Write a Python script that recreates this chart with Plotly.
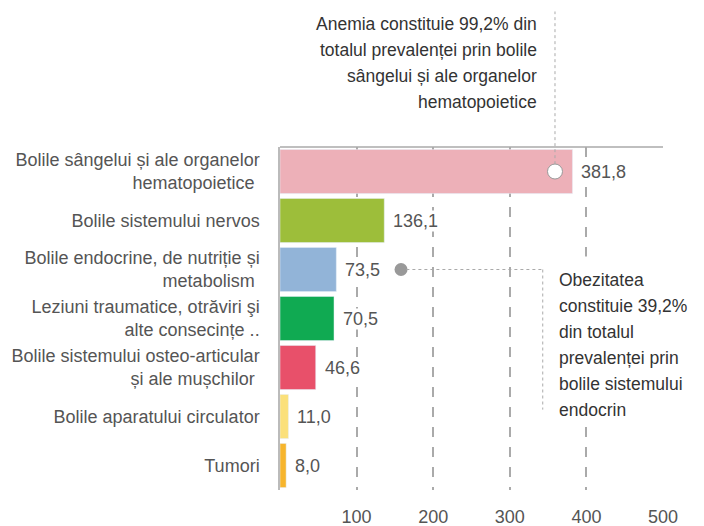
import plotly.graph_objects as go

# data
categories = [
    "Bolile sângelui și ale organelor<br>hematopoietice ",
    "Bolile sistemului nervos",
    "Bolile endocrine, de nutriție și<br>metabolism ",
    "Leziuni traumatice, otrăviri şi<br>alte consecințe ..",
    "Bolile sistemului osteo-articular<br>și ale mușchilor ",
    "Bolile aparatului circulator",
    "Tumori",
]
values = [381.8, 136.1, 73.5, 70.5, 46.6, 11.0, 8.0]
colors = ["#EDB0B8", "#9DBE3A", "#92B4D8", "#10AA52", "#E8506A", "#FBE07A", "#F7B52C"]
tick_vals = [100, 200, 300, 400, 500]

note_anemia = ["Anemia constituie 99,2% din", "totalul prevalenței prin bolile",
               "sângelui și ale organelor", "hematopoietice"]
note_obez = ["Obezitatea", "constituie 39,2%", "din totalul", "prevalenței prin",
             "bolile sistemului", "endocrin"]

idx = list(range(len(categories)))
note_font = dict(family="Liberation Sans, Arial", size=17.5, color="#333")

fig = go.Figure()
fig.add_trace(go.Bar(
    y=idx, x=values, orientation="h", marker_color=colors, width=0.9,
    hoverinfo="skip", showlegend=False,
))

# value labels
for i, v in zip(idx, values):
    fig.add_annotation(x=v, y=i, text=f"{v:.1f}".replace(".", ","), showarrow=False,
                       xanchor="left", xshift=8, bgcolor="white", borderpad=0,
                       font=dict(family="Liberation Sans, Arial", size=18, color="#555"))

# callout markers
fig.add_trace(go.Scatter(x=[359], y=[0], mode="markers", showlegend=False, hoverinfo="skip",
                         marker=dict(size=15, color="white", line=dict(color="#999", width=1))))
fig.add_trace(go.Scatter(x=[158], y=[2], mode="markers", showlegend=False, hoverinfo="skip",
                         marker=dict(size=13, color="#999", line=dict(width=0))))

# white box behind the obesity note (hides gridlines)
fig.add_shape(type="rect", xref="paper", yref="paper", x0=0.694, x1=1.05, y0=0.197, y1=0.681,
              fillcolor="white", line=dict(width=0), layer="above")

dot = dict(color="#aaa", width=1, dash="dot")
fig.add_shape(type="line", xref="x", yref="paper", x0=359, x1=359, y0=0.95, y1=1.395, line=dot)
fig.add_shape(type="line", xref="x", yref="y", x0=165, x1=343, y0=2, y1=2, line=dot)
fig.add_shape(type="line", xref="x", yref="y", x0=343, x1=343, y0=2, y1=4.86, line=dot)
# top frame line
fig.add_shape(type="line", xref="paper", yref="paper", x0=0, x1=1, y0=1, y1=1,
              line=dict(color="#aaa", width=1.5))

# callout texts, one line each
for k, line in enumerate(note_anemia):
    fig.add_annotation(x=338, xref="x", y=1, yref="paper", yshift=123.5 - 26 * k,
                       text=line, showarrow=False, xanchor="right", yanchor="middle",
                       font=note_font)
for k, line in enumerate(note_obez):
    fig.add_annotation(x=361, xref="x", y=1, yref="paper", yshift=-132.5 - 26 * k,
                       text=line, showarrow=False, xanchor="left", yanchor="middle",
                       font=note_font)

fig.update_layout(
    width=704, height=526,
    margin=dict(l=280, r=41, t=147, b=36),
    plot_bgcolor="white", paper_bgcolor="white",
    font=dict(family="Liberation Sans, Arial", color="#555"),
)
fig.update_xaxes(
    range=[0, 500], tickvals=tick_vals, showgrid=True, gridcolor="#aaa", gridwidth=1.5,
    griddash="10px,10px", zeroline=False, showline=False, automargin=False,
    tickfont=dict(size=18, color="#555"), ticklabelstandoff=14,
)
fig.update_yaxes(
    range=[6.5, -0.5], tickvals=idx, ticktext=categories, showgrid=False, zeroline=False,
    showline=True, linecolor="#bbb", linewidth=1.5, automargin=False,
    tickfont=dict(size=18, color="#555"), ticklabelstandoff=15,
)

fig.write_html("out.html", config={"displayModeBar": False},
               post_script="document.body.style.margin='0';")
